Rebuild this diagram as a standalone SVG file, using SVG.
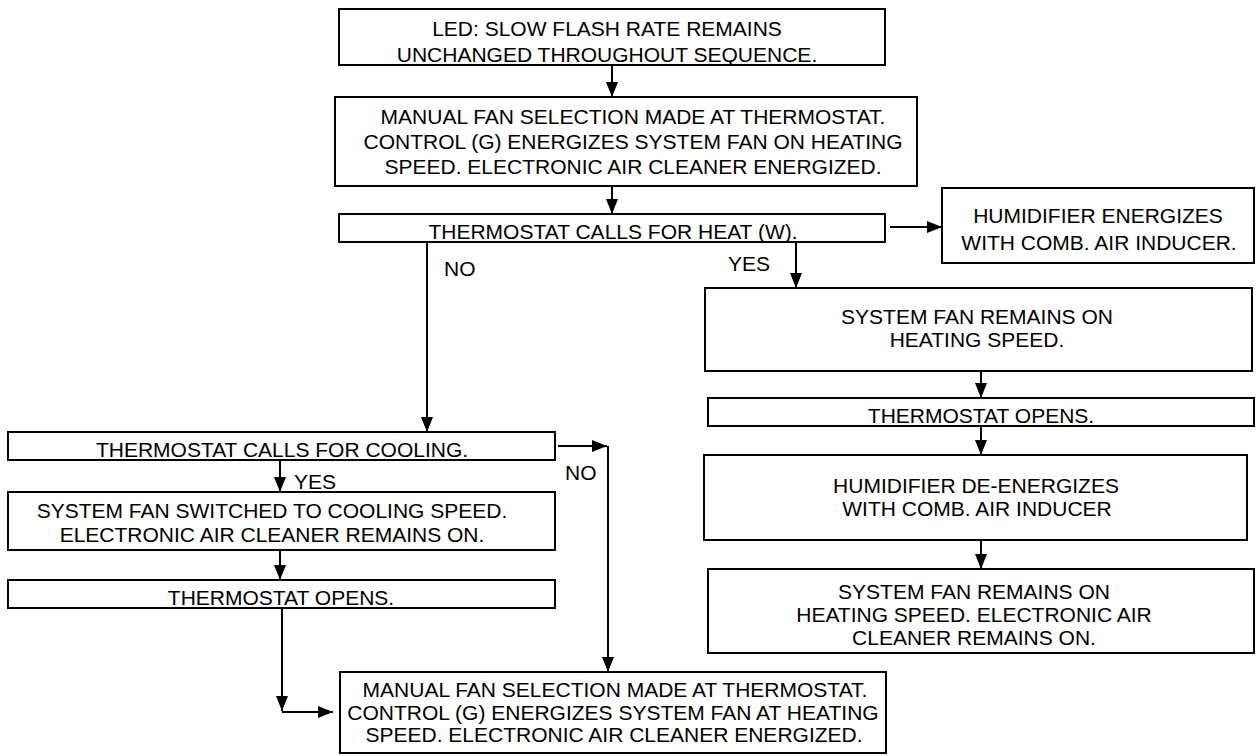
<svg xmlns="http://www.w3.org/2000/svg" width="1257" height="756" viewBox="0 0 1257 756">
<style>
.box{fill:#fff;stroke:#000;stroke-width:2}
.t{font-family:"Liberation Sans",Arial,Helvetica,sans-serif;font-size:21px;fill:#000;text-anchor:middle}
.l{font-family:"Liberation Sans",Arial,Helvetica,sans-serif;font-size:21px;fill:#000}
.c{stroke:#000;stroke-width:2;fill:none;marker-end:url(#ah)}
</style>
<defs>
<marker id="ah" markerUnits="userSpaceOnUse" markerWidth="15" markerHeight="12" refX="15" refY="6" orient="auto">
<path d="M0,0 L15,6 L0,12 z" fill="#000"/>
</marker>
</defs>
<rect width="1257" height="756" fill="#fff"/>
<g id="n-led"><rect class="box" x="339" y="9" width="546" height="56"/>
<text class="t" x="607" y="36">LED: SLOW FLASH RATE REMAINS</text>
<text class="t" x="607" y="62">UNCHANGED THROUGHOUT SEQUENCE.</text></g>
<g id="n-manual"><rect class="box" x="335" y="97" width="582" height="89"/>
<text class="t" x="633" y="124">MANUAL FAN SELECTION MADE AT THERMOSTAT.</text>
<text class="t" x="633" y="149">CONTROL (G) ENERGIZES SYSTEM FAN ON HEATING</text>
<text class="t" x="633" y="174">SPEED. ELECTRONIC AIR CLEANER ENERGIZED.</text></g>
<g id="n-heat"><rect class="box" x="339" y="214" width="546" height="28"/>
<text class="t" x="613" y="238.5">THERMOSTAT CALLS FOR HEAT (W).</text></g>
<g id="n-humid"><rect class="box" x="942" y="188" width="312" height="75"/>
<text class="t" x="1098" y="223">HUMIDIFIER ENERGIZES</text>
<text class="t" x="1099" y="250">WITH COMB. AIR INDUCER.</text></g>
<g id="n-sysfan"><rect class="box" x="705" y="288" width="547" height="83"/>
<text class="t" x="977" y="324">SYSTEM FAN REMAINS ON</text>
<text class="t" x="977" y="347">HEATING SPEED.</text></g>
<g id="n-opens-r"><rect class="box" x="708" y="398" width="546" height="28"/>
<text class="t" x="981" y="422.5">THERMOSTAT OPENS.</text></g>
<g id="n-humid-de"><rect class="box" x="704" y="455" width="543" height="85"/>
<text class="t" x="976" y="493">HUMIDIFIER DE-ENERGIZES</text>
<text class="t" x="977" y="516">WITH COMB. AIR INDUCER</text></g>
<g id="n-sysfan2"><rect class="box" x="708" y="569" width="546" height="84"/>
<text class="t" x="974" y="599">SYSTEM FAN REMAINS ON</text>
<text class="t" x="974" y="622">HEATING SPEED. ELECTRONIC AIR</text>
<text class="t" x="974" y="645">CLEANER REMAINS ON.</text></g>
<g id="n-cooling"><rect class="box" x="8" y="432" width="547" height="28"/>
<text class="t" x="282" y="456.5">THERMOSTAT CALLS FOR COOLING.</text></g>
<g id="n-coolspeed"><rect class="box" x="8" y="492" width="547" height="58"/>
<text class="t" x="272" y="518">SYSTEM FAN SWITCHED TO COOLING SPEED.</text>
<text class="t" x="272" y="542">ELECTRONIC AIR CLEANER REMAINS ON.</text></g>
<g id="n-opens-l"><rect class="box" x="8" y="580" width="547" height="28"/>
<text class="t" x="281" y="604.5">THERMOSTAT OPENS.</text></g>
<g id="n-final"><rect class="box" x="340" y="672" width="546" height="81"/>
<text class="t" x="615" y="697">MANUAL FAN SELECTION MADE AT THERMOSTAT.</text>
<text class="t" x="613" y="720">CONTROL (G) ENERGIZES SYSTEM FAN AT HEATING</text>
<text class="t" x="614" y="742">SPEED. ELECTRONIC AIR CLEANER ENERGIZED.</text></g>
<g id="connectors">
<path class="c" d="M612 65 V97"/>
<path class="c" d="M612 186 V214"/>
<path class="c" d="M890 227 H942"/>
<path class="c" d="M796 242 V288"/>
<path class="c" d="M427 242 V432"/>
<path class="c" d="M981 371 V398"/>
<path class="c" d="M981 426 V455"/>
<path class="c" d="M981 540 V569"/>
<path class="c" d="M558 446 H607"/>
<path class="c" d="M608 446 V672"/>
<path class="c" d="M280 460 V492"/>
<path class="c" d="M280 550 V580"/>
<path class="c" d="M282 608 V711"/>
<path class="c" d="M282 712 H333"/>
</g>
<g id="labels">
<text class="l" x="444" y="276">NO</text>
<text class="l" x="728" y="271">YES</text>
<text class="l" x="294" y="489">YES</text>
<text class="l" x="565" y="480">NO</text>
</g>
</svg>
